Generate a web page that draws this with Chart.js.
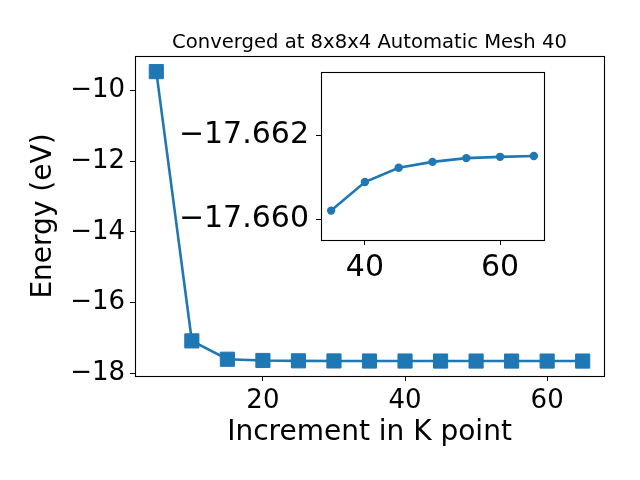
<!DOCTYPE html>
<html>
<head>
<meta charset="utf-8">
<script src="https://cdn.jsdelivr.net/npm/chart.js@4"></script>
<style>
  body { margin: 0; background: #fff; }
  #wrap { position: relative; width: 640px; height: 480px; }
  #main { position: absolute; left: 0; top: 0; }
  #inset { position: absolute; left: 160px; top: 50px; }
</style>
</head>
<body>
<div id="wrap">
  <canvas id="main" width="640" height="480"></canvas>
  <canvas id="inset" width="400" height="240"></canvas>
</div>
<script>
var kpoints = [5, 10, 15, 20, 25, 30, 35, 40, 45, 50, 55, 60, 65];
var energy = [-9.46, -17.09, -17.61, -17.645, -17.655, -17.658, -17.6602,
    -17.66088, -17.66122, -17.66136, -17.66145, -17.66148, -17.6615];
var insetK = [35, 40, 45, 50, 55, 60, 65];
var insetEnergy = [-17.6602, -17.66088, -17.66122, -17.66136, -17.66145, -17.66148, -17.6615];
var xTicks = [20, 40, 60];
var yTicks = [-18, -16, -14, -12, -10];
var insetXTicks = [40, 60];
var insetYTicks = [-17.662, -17.660];

var blue = '#1f77b4';
var font = "'DejaVu Sans', sans-serif";

function minus(s) { return String(s).replace('-', '\u2212'); }

function points(xs, ys) {
    return xs.map(function (x, i) { return { x: x, y: ys[i] }; });
}

var frame = {
    id: 'frame',
    beforeDatasetsDraw: function (chart, args, opts) {
        if (!opts.fill) return;
        var a = chart.chartArea, ctx = chart.ctx;
        ctx.save();
        ctx.fillStyle = '#fff';
        ctx.fillRect(a.left, a.top, a.right - a.left, a.bottom - a.top);
        ctx.restore();
    },
    afterDraw: function (chart) {
        var a = chart.chartArea, ctx = chart.ctx;
        ctx.save();
        ctx.strokeStyle = '#000';
        ctx.lineWidth = 1.1;
        ctx.strokeRect(Math.round(a.left) + 0.5, Math.round(a.top) + 0.5,
            Math.round(a.right - a.left), Math.round(a.bottom - a.top));
        ctx.restore();
    }
};

var topTitle = {
    id: 'topTitle',
    afterDraw: function (chart, args, opts) {
        if (!opts.text) return;
        var a = chart.chartArea, ctx = chart.ctx;
        ctx.save();
        ctx.fillStyle = '#000';
        ctx.font = '19.6px ' + font;
        ctx.textAlign = 'center';
        ctx.textBaseline = 'alphabetic';
        ctx.fillText(opts.text, (a.left + a.right) / 2, 48);
        ctx.restore();
    }
};

function axisStyle(ticks, size, pad, fmt) {
    return {
        afterBuildTicks: function (s) { s.ticks = ticks.map(function (v) { return { value: v }; }); },
        grid: { drawOnChartArea: false, drawTicks: true, tickLength: 5, color: '#000', tickWidth: 1 },
        border: { display: true, color: '#000', width: 1 },
        ticks: {
            color: '#000', padding: pad, font: { family: font, size: size },
            maxRotation: 0, autoSkip: false,
            callback: function (v) { return minus(fmt(v)); }
        }
    };
}

var mx = axisStyle(xTicks, 26, 5, function (v) { return v; });
mx.type = 'linear';
mx.min = 2;
mx.max = 68;
mx.afterFit = function (s) { s.height = 104; };
mx.title = { display: true, text: 'Increment in K point', color: '#000',
    font: { family: font, size: 28 }, padding: { top: 0, bottom: 30 } };

var my = axisStyle(yTicks, 26, 5, function (v) { return v; });
my.min = -18.085;
my.max = -9.017;
my.afterFit = function (s) { s.width = 135; };
my.title = { display: true, text: 'Energy (eV)', color: '#000',
    font: { family: font, size: 28 }, padding: { top: 27, bottom: 0 } };

new Chart(document.getElementById('main'), {
    type: 'line',
    data: {
        datasets: [{
            data: points(kpoints, energy),
            borderColor: blue,
            backgroundColor: blue,
            borderWidth: 2.6,
            pointStyle: 'rect',
            pointRadius: 10,
            pointBorderWidth: 1,
            tension: 0
        }]
    },
    options: {
        responsive: false,
        devicePixelRatio: 1,
        animation: false,
        layout: { padding: { left: 0, top: 56, right: 36, bottom: 0 } },
        scales: { x: mx, y: my },
        plugins: {
            legend: { display: false },
            tooltip: { enabled: false },
            topTitle: { text: 'Converged at 8x8x4 Automatic Mesh 40' },
            frame: { fill: false }
        }
    },
    plugins: [frame, topTitle]
});

var ix = axisStyle(insetXTicks, 30, 5, function (v) { return v; });
ix.type = 'linear';
ix.min = 33.5;
ix.max = 66.5;
ix.afterFit = function (s) { s.height = 50; s.paddingLeft = 0; s.paddingRight = 0; };

var iy = axisStyle(insetYTicks, 30, 7, function (v) { return v.toFixed(3); });
iy.min = -17.6635;
iy.max = -17.6595;
iy.reverse = true;
iy.afterFit = function (s) { s.width = 161; s.paddingTop = 0; s.paddingBottom = 0; };

new Chart(document.getElementById('inset'), {
    type: 'line',
    data: {
        datasets: [{
            data: points(insetK, insetEnergy),
            borderColor: blue,
            backgroundColor: blue,
            borderWidth: 2.6,
            pointStyle: 'circle',
            pointRadius: 4.2,
            pointBorderWidth: 0,
            tension: 0
        }]
    },
    options: {
        responsive: false,
        devicePixelRatio: 1,
        animation: false,
        layout: { padding: { left: 0, top: 22, right: 16, bottom: 0 } },
        scales: { x: ix, y: iy },
        plugins: {
            legend: { display: false },
            tooltip: { enabled: false },
            frame: { fill: true }
        }
    },
    plugins: [frame]
});
</script>
</body>
</html>
